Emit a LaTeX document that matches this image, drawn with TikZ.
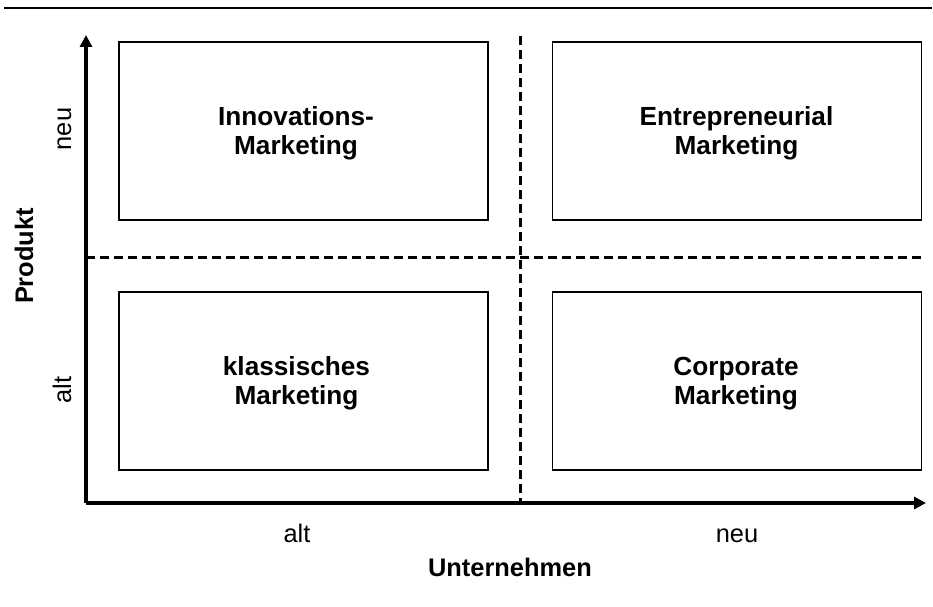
\documentclass[tikz,border=0pt]{standalone}
\usepackage{fontspec}
\setmainfont{Liberation Sans}
\usetikzlibrary{arrows.meta}
\tikzset{
  quad/.style={draw, line width=1.5bp, minimum width=369bp, minimum height=178bp, inner sep=0pt},
  qtext/.style={inner sep=0pt, align=center, font=\fontsize{26.3}{29}\selectfont\bfseries},
  axis/.style={line width=3.2bp, -{Triangle[length=12bp,width=12bp]}},
  divider/.style={line width=3bp, dash pattern=on 9bp off 5bp},
  lab/.style={anchor=base, inner sep=0pt, font=\fontsize{25.5}{29}\selectfont},
  blab/.style={lab, font=\fontsize{25.5}{29}\selectfont\bfseries},
}
\begin{document}
\begin{tikzpicture}[x=1bp, y=-1bp]
\useasboundingbox (0,0) rectangle (933,607);
% top rule
\coordinate (rl) at (4,8.5);
\coordinate (rr) at (932,8.5);
\draw[line width=2bp] (rl) -- (rr);
% quadrants
\node[quad] (inno) at (303.5,131) {};
\node[quad] (entre) at (737,131) {};
\node[quad] (klass) at (303.5,381) {};
\node[quad] (corp) at (737,381) {};
\node[qtext] (innot) at ([xshift=-7.5bp,yshift=-2.5bp]inno.center) {Innovations-\\Marketing};
\node[qtext] (entret) at ([xshift=-0.5bp,yshift=-2.5bp]entre.center) {Entrepreneurial\\Marketing};
\node[qtext] (klasst) at ([xshift=-7bp,yshift=-2.5bp]klass.center) {klassisches\\Marketing};
\node[qtext] (corpt) at ([xshift=-1bp,yshift=-2.5bp]corp.center) {Corporate\\Marketing};
% dividers
\coordinate (vt) at (520.5,36);
\coordinate (vb) at (520.5,503);
\coordinate (hl) at (86,257.5);
\coordinate (hr) at (923,257.5);
\draw[divider] (vt) -- (vb);
\draw[divider] (hl) -- (hr);
% axes
\coordinate (o) at (86,503);
\coordinate (ytip) at (86,35);
\coordinate (xtip) at (926,503);
\draw[axis] (o) -- (ytip);
\draw[axis] (o) -- (xtip);
% labels
\node[lab, rotate=90] (yneu) at (71,129) {neu};
\node[lab, rotate=90] (yalt) at (71,390) {alt};
\node[blab, rotate=90] (ytitle) at (33,256) {Produkt};
\node[lab] (xalt) at (297,542) {alt};
\node[lab] (xneu) at (737,542) {neu};
\node[blab] (xtitle) at (510,576) {Unternehmen};
\end{tikzpicture}
\end{document}
